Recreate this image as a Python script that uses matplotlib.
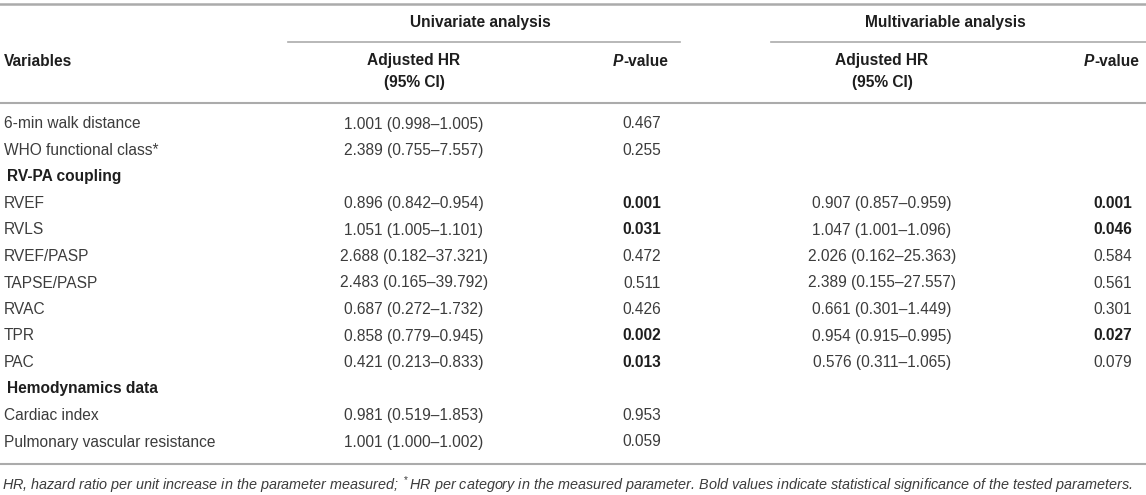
import matplotlib.pyplot as plt

# table content
variables = ["6-min walk distance", "WHO functional class*", "RV-PA coupling",
             "RVEF", "RVLS", "RVEF/PASP", "TAPSE/PASP", "RVAC", "TPR", "PAC",
             "Hemodynamics data", "Cardiac index", "Pulmonary vascular resistance"]
sections = ["RV-PA coupling", "Hemodynamics data"]
uni_hr = ["1.001 (0.998–1.005)", "2.389 (0.755–7.557)", "",
          "0.896 (0.842–0.954)", "1.051 (1.005–1.101)", "2.688 (0.182–37.321)",
          "2.483 (0.165–39.792)", "0.687 (0.272–1.732)", "0.858 (0.779–0.945)",
          "0.421 (0.213–0.833)", "", "0.981 (0.519–1.853)", "1.001 (1.000–1.002)"]
uni_p = ["0.467", "0.255", "", "0.001", "0.031", "0.472", "0.511", "0.426",
         "0.002", "0.013", "", "0.953", "0.059"]
multi_hr = ["", "", "", "0.907 (0.857–0.959)", "1.047 (1.001–1.096)",
            "2.026 (0.162–25.363)", "2.389 (0.155–27.557)", "0.661 (0.301–1.449)",
            "0.954 (0.915–0.995)", "0.576 (0.311–1.065)", "", "", ""]
multi_p = ["", "", "", "0.001", "0.046", "0.584", "0.561", "0.301", "0.027",
           "0.079", "", "", ""]
footnote = ("HR, hazard ratio per unit increase in the parameter measured; $^*$HR per category "
            "in the measured parameter. Bold values indicate statistical significance "
            "of the tested parameters.")

plt.rcParams['font.family'] = ['Liberation Sans', 'DejaVu Sans']
plt.rcParams['mathtext.fontset'] = 'custom'
plt.rcParams['mathtext.rm'] = 'Liberation Sans'
plt.rcParams['mathtext.it'] = 'Liberation Sans:italic'

W, H = 1146, 495
fig = plt.figure(figsize=(W / 100, H / 100), dpi=100)
ax = fig.add_axes([0, 0, 1, 1])
ax.set_xlim(0, W)
ax.set_ylim(H, 0)
ax.axis('off')

txt = '#3c3c3c'
hdr = '#1e1e1e'
line_c = '#ababab'
fs = 11.2

# column anchors (pixels)
x_var, x_uhr, x_up, x_mhr, x_mp = 4, 414, 642, 882, 1113

# rules
ax.plot([0, W], [4, 4], color=line_c, lw=1.8)
ax.plot([288, 680], [42, 42], color=line_c, lw=1.2)
ax.plot([771, W], [42, 42], color=line_c, lw=1.2)
ax.plot([0, W], [103, 103], color=line_c, lw=1.5)
ax.plot([0, W], [464, 464], color=line_c, lw=1.5)

# header
ax.text(480, 23, "Univariate analysis", ha='center', va='center', fontsize=fs, fontweight='bold', color=hdr)
ax.text(945, 23, "Multivariable analysis", ha='center', va='center', fontsize=fs, fontweight='bold', color=hdr)
ax.text(x_var, 61, "Variables", ha='left', va='center', fontsize=fs, fontweight='bold', color=hdr)
for cx in [x_uhr, x_mhr]:
    ax.text(cx, 61, "Adjusted HR", ha='center', va='center', fontsize=fs, fontweight='bold', color=hdr)
    ax.text(cx, 82, "(95% CI)", ha='center', va='center', fontsize=fs, fontweight='bold', color=hdr)
for cx in [x_up, x_mp]:
    p = ax.text(cx - 29, 61, "P", ha='left', va='center', fontsize=fs, fontweight='bold',
                fontstyle='italic', color=hdr)
    ax.annotate("-value", xy=(1, 0.5), xycoords=p, ha='left', va='center',
                fontsize=fs, fontweight='bold', color=hdr)

# body
y0, dy = 124, 26.5
for i, name in enumerate(variables):
    y = y0 + i * dy
    if name in sections:
        ax.text(7, y, name, ha='left', va='center', fontsize=fs, fontweight='bold', color=hdr)
        continue
    ax.text(x_var, y, name, ha='left', va='center', fontsize=fs, color=txt)
    ax.text(x_uhr, y, uni_hr[i], ha='center', va='center', fontsize=fs, color=txt)
    ax.text(x_mhr, y, multi_hr[i], ha='center', va='center', fontsize=fs, color=txt)
    for cx, val in [(x_up, uni_p[i]), (x_mp, multi_p[i])]:
        if val:
            sig = float(val) < 0.05
            ax.text(cx, y, val, ha='center', va='center', fontsize=fs,
                    fontweight='bold' if sig else 'normal', color=hdr if sig else txt)

ax.text(2, 485, footnote, ha='left', va='center', fontsize=10.4, fontstyle='italic', color=txt)

fig.savefig('out.png', dpi=100)
